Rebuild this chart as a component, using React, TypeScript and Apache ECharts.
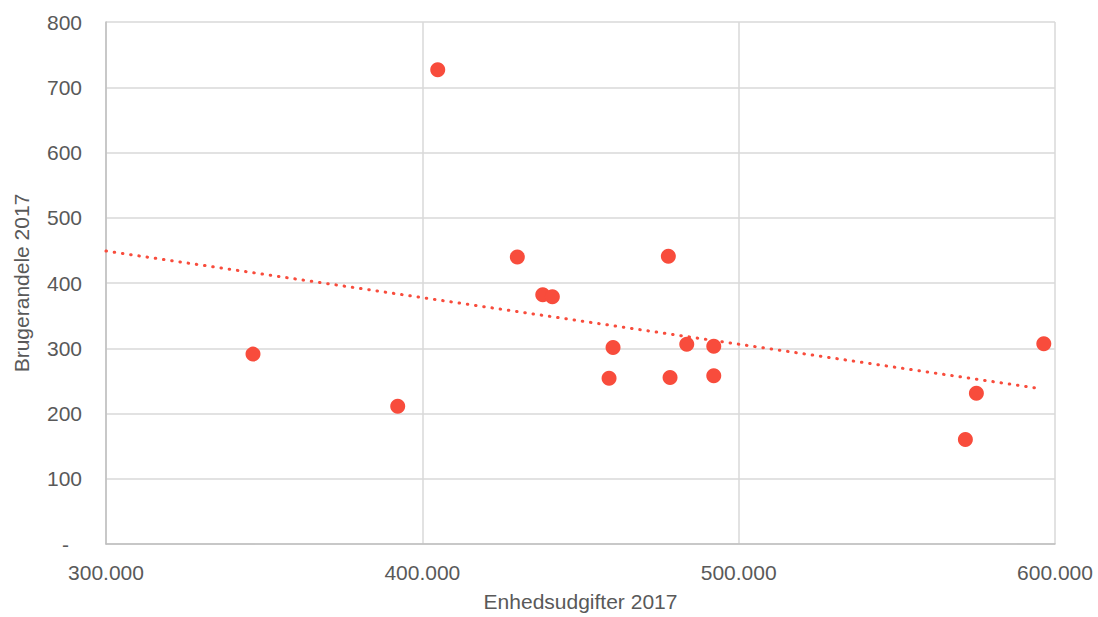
import React, { useEffect, useRef } from "react";
import * as echarts from "echarts";

const xValues = [346470, 392220, 404870, 430030, 438070, 441100, 459030, 460290, 477770, 478310, 483590, 492130, 492130, 571670, 575150, 596460];
const yValues = [291, 211, 727, 440, 382, 379, 254, 301, 441, 255, 306, 303, 258, 160, 231, 307];
const trendX = [300000, 595600];
const trendY = [449, 238];
const xTicks = [300000, 400000, 500000, 600000];
const yTicks = [0, 100, 200, 300, 400, 500, 600, 700, 800];
const xName = "Enhedsudgifter 2017";
const yName = "Brugerandele 2017";

const RED = "#F84C3C";
const TEXT = "#595959";
const FONT = "'Liberation Sans', Arial, sans-serif";
const FS = 21;

function fmtThousands(v: number): string {
  return String(Math.round(v)).replace(/\B(?=(\d{3})+(?!\d))/g, ".");
}

export default function App() {
  const ref = useRef<HTMLDivElement>(null);
  useEffect(() => {
    if (!ref.current) return;
    const chart = echarts.init(ref.current, undefined, { renderer: "svg" });
    chart.setOption({
      animation: false,
      textStyle: { fontFamily: FONT },
      grid: { left: 106, right: 43, top: 22, height: 527 },
      xAxis: {
        type: "value",
        min: xTicks[0],
        max: xTicks[xTicks.length - 1],
        interval: 100000,
        name: xName,
        nameLocation: "middle",
        nameGap: 47,
        nameTextStyle: { color: TEXT, fontSize: FS, fontFamily: FONT },
        axisLine: { show: true, lineStyle: { color: "#BFBFBF", width: 1.5 } },
        axisTick: { show: false },
        splitLine: { show: true, lineStyle: { color: "#D9D9D9", width: 1.5 } },
        axisLabel: {
          color: TEXT,
          fontSize: FS,
          fontFamily: FONT,
          margin: 18,
          formatter: (v: number) => fmtThousands(v),
        },
      },
      yAxis: {
        type: "value",
        min: yTicks[0],
        max: yTicks[yTicks.length - 1],
        interval: 100,
        name: yName,
        nameLocation: "middle",
        nameGap: 74,
        nameRotate: 90,
        nameTextStyle: { color: TEXT, fontSize: FS, fontFamily: FONT },
        axisLine: { show: true, lineStyle: { color: "#BFBFBF", width: 1.5 } },
        axisTick: { show: false },
        splitLine: { show: true, lineStyle: { color: "#D9D9D9", width: 1.5 } },
        axisLabel: {
          color: TEXT,
          fontSize: FS,
          fontFamily: FONT,
          margin: 24,
          formatter: (v: number) => (v === 0 ? "{d|-}" : String(v)),
          rich: { d: { color: TEXT, fontSize: FS, fontFamily: FONT, padding: [0, 13, 0, 0] } },
        },
      },
      series: [
        {
          type: "line",
          data: trendX.map((x, i) => [x, trendY[i]]),
          showSymbol: false,
          symbol: "none",
          lineStyle: { color: RED, width: 3, type: [0.5, 7.8], cap: "round" },
          z: 2,
        },
        {
          type: "scatter",
          data: xValues.map((x, i) => [x, yValues[i]]),
          symbol: "circle",
          symbolSize: 15,
          itemStyle: { color: RED, opacity: 1 },
          z: 3,
        },
      ],
    });
    return () => chart.dispose();
  }, []);
  return <div ref={ref} style={{ width: 1098, height: 617, position: "absolute", left: 0, top: 0 }} />;
}
